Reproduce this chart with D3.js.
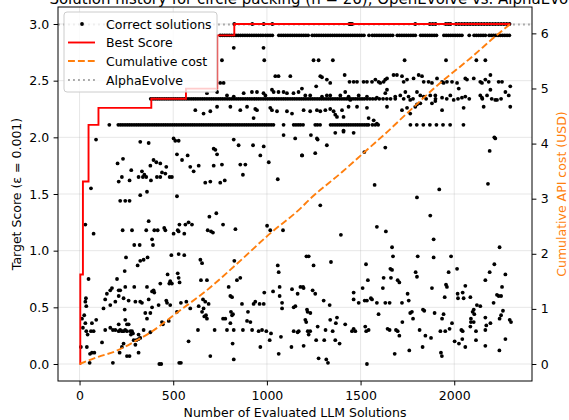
<!DOCTYPE html>
<html>
<head>
<meta charset="utf-8">
<script src="https://cdn.jsdelivr.net/npm/d3@7"></script>
<style>
html,body{margin:0;padding:0;background:#fff;}
svg{display:block;font-family:"DejaVu Sans",sans-serif;}
</style>
</head>
<body>
<svg id="chart" width="569" height="420"></svg>
<script>
// ---------------- DATA ----------------
const xTicks = [0, 500, 1000, 1500, 2000];
const yTicks = [0.0, 0.5, 1.0, 1.5, 2.0, 2.5, 3.0];
const y2Ticks = [0, 1, 2, 3, 4, 5, 6];

// rows of solutions that share the same score
const rowLevels = [3.0, 2.9, 2.34, 2.11];
const row300X = [826, 922, 983, 1029, 1440, 1447, 1455, 1792, 1870, 1885, 1900, 1955, 1968, 1980, 2010, 2025, 2040, 2055, 2070, 2085, 2100, 2115, 2130, 2145, 2160, 2175, 2190, 2205, 2220, 2235, 2250, 2265, 2280, 2295];
const row290X = [751, 763, 775, 787, 799, 811, 823, 835, 847, 859, 871, 883, 895, 907, 919, 931, 943, 955, 967, 979, 993, 1005, 1017, 1029, 1064, 1076, 1088, 1100, 1112, 1124, 1136, 1148, 1160, 1172, 1184, 1196, 1208, 1220, 1242, 1254, 1266, 1278, 1290, 1302, 1314, 1326, 1338, 1350, 1362, 1374, 1386, 1398, 1410, 1422, 1434, 1446, 1458, 1470, 1482, 1494, 1506, 1518, 1545, 1563, 1575, 1587, 1599, 1611, 1623, 1635, 1647, 1659, 1671, 1696, 1708, 1720, 1732, 1744, 1756, 1768, 1780, 1792, 1821, 1833, 1845, 1857, 1869, 1881, 1893, 1905, 1945, 1957, 1969, 1981, 1993, 2005, 2017, 2029, 2041, 2080, 2106, 2118, 2130, 2142, 2154, 2166, 2186, 2198, 2210, 2222, 2234, 2246, 2258, 2270, 2282, 2294];
const row234X = [380, 392, 404, 416, 428, 440, 452, 464, 476, 488, 500, 512, 524, 536, 548, 560, 572, 584, 596, 608, 620, 632, 644, 656, 668, 680, 692, 704, 716, 728, 740, 752, 764, 776, 788, 800, 812, 824, 836, 848, 860, 872, 884, 896, 908, 920, 932, 944, 956, 968, 980, 992, 1004, 1016, 1028, 1040, 1052, 1064, 1076, 1088, 1100, 1112, 1124, 1136, 1148, 1160, 1172, 1184, 1196, 1208, 1220, 1232, 1244, 1256, 1268, 1280, 1292, 1304, 1316, 1328, 1340, 1352, 1364, 1376, 1388, 1400, 1412, 1424, 1436, 1448, 1460, 1472, 1484, 1496, 1508, 1520, 1535, 1550, 1565, 1580, 1600, 1620, 1640, 1660, 1685, 1730, 1780, 1850, 1900, 1960, 2020, 2080, 2150, 2200, 2250];
const row211X = [159, 207, 219, 231, 243, 255, 267, 279, 291, 303, 315, 327, 339, 351, 363, 375, 387, 399, 411, 423, 435, 447, 459, 471, 483, 495, 507, 519, 531, 543, 555, 567, 579, 591, 603, 615, 627, 639, 651, 663, 675, 687, 699, 711, 723, 735, 747, 759, 771, 783, 795, 807, 819, 831, 843, 855, 867, 879, 891, 903, 915, 927, 939, 951, 963, 975, 987, 999, 1011, 1023, 1035, 1089, 1143, 1155, 1167, 1179, 1193, 1258, 1270, 1284, 1340, 1352, 1364, 1376, 1388, 1400, 1412, 1424, 1436, 1448, 1460, 1472, 1484, 1496, 1508, 1520, 1532, 1542, 1563, 1578, 1594, 1766, 1800, 1835, 1870, 1905, 1940, 1978, 2049];

// remaining correct solutions [evaluation index, score]
const otherSolutions = [
[61,1.55],[48,0.75],[34,0.58],[31,0.55],[36,0.51],[25,0.43],[43,0.26],[56,0.09],[88,1.98],
[751,2.48],[769,2.48],[734,2.40],[618,2.24],[662,2.21],[698,2.23],[734,2.27],[805,2.27],[858,2.24],[894,2.27],[947,2.24],[1018,2.26],[1054,2.23],[680,2.39],[787,2.37],[876,2.39],[920,2.40],[992,2.37],[1036,2.40],[823,2.36],[823,2.79],[760,2.68],[986,2.68],[982,2.79],
[324,1.96],[369,1.95],[502,1.99],[511,1.97],[529,1.97],[716,1.90],[823,1.98],[849,1.93],[926,1.93],[983,1.92],
[1249,2.68],[1276,2.68],[1352,2.68],[1735,2.68],[1956,2.68],[2118,2.68],[2166,2.68],
[1045,2.54],[1062,2.54],[1125,2.54],[1285,2.54],[1294,2.53],[1320,2.51],[1338,2.48],[1415,2.55],[1441,2.49],[1463,2.49],[1481,2.49],[1516,2.49],[1534,2.49],[1561,2.49],[1579,2.51],[1596,2.49],[1605,2.48],[1623,2.49],[1632,2.51],[1641,2.52],[1676,2.55],[1694,2.55],[1721,2.54],[1730,2.49],[1748,2.51],[1783,2.52],[1810,2.55],[1828,2.54],[1837,2.49],[1863,2.49],[1881,2.48],[1908,2.52],[1935,2.49],[1943,2.48],[1961,2.49],[1988,2.49],[2015,2.48],[2059,2.52],[2068,2.51],[2104,2.52],[2139,2.49],[2148,2.48],[2166,2.51],[2184,2.49],[2193,2.55],[2237,2.49],[2255,2.49],
[947,2.40],[982,2.39],[1027,2.42],[1062,2.40],[1089,2.40],[1107,2.39],[1142,2.39],[1169,2.40],[1187,2.43],[1205,2.37],[1231,2.37],[1263,2.45],[1294,2.36],[1320,2.37],[1338,2.37],[1392,2.37],[1418,2.40],[1436,2.36],[1445,2.33],[1490,2.37],[1534,2.36],[1587,2.35],[1632,2.39],[1641,2.42],[1685,2.36],[1712,2.37],[1739,2.40],[1756,2.36],[1765,2.33],[1801,2.40],[1819,2.37],[1837,2.36],[1872,2.37],[1899,2.37],[1935,2.35],[1979,2.37],[1997,2.33],[2024,2.43],[2041,2.35],[2059,2.36],[2139,2.37],[2148,2.35],[2175,2.37],[2193,2.42],[2219,2.33],[2273,2.40],[2291,2.37],[2299,2.45],
[938,2.25],[929,2.17],[1027,2.24],[1107,2.23],[1134,2.21],[1196,2.24],[1231,2.23],[1267,2.24],[1285,2.23],[1312,2.24],[1338,2.25],[1356,2.23],[1365,2.20],[1374,2.18],[1401,2.24],[1409,2.18],[1436,2.27],[1481,2.27],[1534,2.26],[1543,2.17],[1570,2.15],[1587,2.12],[1641,2.27],[1721,2.24],[1748,2.26],[1765,2.21],[1792,2.27],[1801,2.29],[1819,2.30],[1881,2.30],[1899,2.32],[1935,2.24],[2050,2.26],[2157,2.27],[2228,2.33],[2299,2.27],
[1089,2.02],[1151,1.99],[1267,1.99],[1365,2.04],[1409,2.05],[1463,2.04],[2219,1.99],
[203,1.77],[232,1.81],[209,1.61],[226,1.65],[276,1.71],[267,1.62],[315,1.65],[333,1.70],[338,1.65],[356,1.65],[346,1.67],[378,1.75],[381,1.62],[395,1.80],[410,1.78],[431,1.77],[440,1.69],[463,1.74],[413,1.65],[431,1.65],[458,1.68],[481,1.65],[493,1.65],[520,1.85],[547,1.80],[577,1.84],[591,1.74],[609,1.70],[636,1.75],[671,1.60],[698,1.61],[716,1.75],[734,1.85],[725,1.89],[751,1.60],[760,1.76],[775,1.62],[858,1.76],[885,1.76],[872,1.67],[965,1.84],[1010,1.78],[1058,1.63],[1188,1.84],
[217,1.44],[244,1.44],[267,1.44],[324,1.49],[360,1.52],[520,1.48],
[230,1.18],[280,1.18],[369,1.26],[356,1.18],[399,1.18],[417,1.18],[387,1.10],[392,1.05],[292,1.05],[321,1.05],[452,1.20],[458,1.18],[502,1.15],[524,1.18],[533,1.23],[529,1.17],[559,1.15],[565,1.23],[582,1.25],[600,1.23],[684,1.18],[693,1.30],[702,1.17],[712,1.16],[730,1.33],[766,1.23],[832,1.19],[1001,1.22],[1018,1.18],[1086,1.18],[75,1.15],[31,1.23],
[248,0.94],[324,0.91],[342,0.92],[363,0.94],[310,0.87],[241,0.82],[200,0.75],[173,0.67],[164,0.65],[146,0.62],[137,0.57],[128,0.49],[164,0.52],[191,0.55],[209,0.65],[217,0.65],[244,0.68],[235,0.58],[209,0.60],[241,0.48],[262,0.56],[292,0.68],[298,0.55],[324,0.55],[333,0.54],[360,0.68],[369,0.57],[387,0.64],[395,0.65],[399,0.63],[431,0.71],[422,0.52],[387,0.50],[378,0.45],[351,0.45],[315,0.26],[342,0.30],
[463,0.56],[470,0.79],[479,0.71],[484,0.73],[493,0.71],[524,0.80],[529,0.76],[534,0.72],[490,0.96],[529,0.97],[559,0.96],[570,0.55],[591,0.49],[645,0.92],[654,0.89],[648,0.74],[680,0.74],[659,0.57],[662,0.49],[671,0.55],[675,0.43],[680,0.40],[689,0.53],[796,0.68],[805,0.60],[814,0.59],[826,0.91],[840,0.74],[858,0.76],[867,0.53],[899,0.46],[929,0.53],[938,0.55],[961,0.53],[983,0.53],[986,0.63],[1033,0.64],[1058,0.87],[1063,0.81],[1068,0.68],[1068,0.60],[1081,0.54],[1081,0.49],[1134,0.66],[1143,0.50],[1152,0.51],[1164,0.62],[1179,0.68],[1193,0.68],[1211,0.95],[1214,0.48],
[13,0.40],[31,0.36],[18,0.32],[36,0.29],[61,0.29],[75,0.29],[66,0.36],[89,0.39],[120,0.19],[137,0.30],[164,0.32],[178,0.30],[191,0.30],[209,0.35],[209,0.29],[217,0.30],[226,0.29],[235,0.29],[244,0.30],[253,0.29],[262,0.35],[271,0.29],[280,0.29],[274,0.26],[285,0.27],[244,0.39],[253,0.35],[289,0.21],[303,0.21],[315,0.22],[324,0.23],[298,0.17],[235,0.18],[226,0.15],[214,0.10],[315,0.10],[253,0.07],[267,0.07],
[360,0.40],[378,0.28],[476,0.38],[520,0.46],[440,0.37],[445,0.35],[484,0.52],[467,0.54],[541,0.54],[582,0.20],[632,0.30],[636,0.51],[654,0.46],[666,0.42],[698,0.07],[721,0.30],[766,0.40],[778,0.40],[787,0.30],[805,0.36],[808,0.46],[814,0.43],[819,0.44],[823,0.30],[823,0.04],[817,0.18],[872,0.30],[894,0.38],[912,0.37],[921,0.30],[956,0.29],[965,0.15],[974,0.30],[997,0.29],[1015,0.21],[1022,0.27],[1063,0.09],[1075,0.24],[1131,0.15],[1143,0.29],[1164,0.28],[1170,0.29],[1205,0.39],[1218,0.29],[1223,0.26],[1232,0.45],
[7,0.15],[39,0.15],[66,0.10],[79,0.10],[54,0.01],[178,0.01],[436,0.00],[541,0.01],[426,0.00],[532,0.01],
[1187,1.84],[1235,2.02],[1258,1.86],[1271,1.98],[1320,1.93],[1409,2.06],[1520,1.87],[1632,1.91],[1285,1.40],[1395,1.14],[1575,1.58],[1587,1.21],[1635,1.17],[1801,1.47],[1872,1.31],[1890,1.10],[1920,1.54],[2180,1.59],[2189,1.88],[2214,2.00],[2242,1.03],
[1223,0.95],[1249,0.87],[1342,0.90],[1668,1.03],[1673,0.95],[1659,0.84],[1668,0.83],[1662,0.76],[1623,0.76],[1619,0.67],[1529,0.88],[1539,0.74],[1511,0.67],[1805,0.95],[1794,0.81],[1801,0.77],[1890,0.94],[1881,0.67],[1949,0.59],[1956,0.70],[1961,0.68],[1970,0.81],[1983,0.95],[2015,0.84],[2166,0.74],[2189,0.81],[2214,0.88],[2273,0.79],[2255,0.68],[2250,0.60],[2237,0.60],[2228,0.61],[2210,0.54],[2121,0.52],
[1196,0.67],[1244,0.65],[1258,0.62],[1303,0.56],[1335,0.52],[1463,0.63],[1463,0.57],[1490,0.54],[1522,0.56],[1534,0.56],[1555,0.58],[1561,0.57],[1587,0.54],[1632,0.54],[1655,0.54],[1698,0.74],[1707,0.72],[1721,0.54],[1751,0.62],[1757,0.56],[1774,0.46],[1765,0.45],[1780,0.40],[1833,0.48],[1840,0.47],[1895,0.45],[1943,0.44],[1935,0.40],[1988,0.36],[2018,0.62],[2020,0.58],[2045,0.63],[2050,0.58],[2059,0.69],[2086,0.59],[2089,0.40],[2098,0.46],[2107,0.44],[2104,0.48],[2089,0.37],[2086,0.33],[2139,0.51],[2104,0.37],[2166,0.41],[2171,0.34],[2193,0.36],[2242,0.40],[2250,0.43],[2260,0.47],[2296,0.39],[2303,0.37],
[1217,0.46],[1210,0.37],[1231,0.29],[1271,0.33],[1313,0.30],[1351,0.29],[1368,0.36],[1338,0.39],[1374,0.41],[1418,0.35],[1454,0.29],[1463,0.31],[1472,0.29],[1525,0.33],[1530,0.29],[1543,0.30],[1596,0.44],[1644,0.31],[1655,0.30],[1689,0.30],[1698,0.29],[1707,0.25],[1723,0.37],[1815,0.30],[1846,0.25],[1876,0.23],[1926,0.29],[1952,0.29],[1975,0.31],[2038,0.30],[2045,0.29],[2002,0.20],[2025,0.18],[2043,0.22],[2059,0.15],[2116,0.29],[2116,0.21],[2166,0.30],[2166,0.16],[2273,0.22],[2241,0.12],
[1196,0.16],[1263,0.21],[1306,0.21],[1365,0.21],[1388,0.18],[1276,0.05],[1317,0.04],[1326,0.01],[1534,0.00],[1682,0.09],[1760,0.12],[1831,0.15],[1929,0.10],[1934,0.07]
];

// best score so far (step function)
const bestX = [0, 4, 18, 48, 101, 383, 568, 735, 826, 2300];
const bestY = [0, 0.79, 1.61, 2.11, 2.26, 2.34, 2.43, 2.90, 3.0, 3.0];

// cumulative API cost (USD)
const costX = [0, 100, 191, 300, 377, 527, 680, 831, 1018, 1178, 1232, 1400, 1516, 1579, 1632, 1748, 1908, 2086, 2228, 2300];
const costY = [0, 0.13, 0.23, 0.42, 0.57, 0.95, 1.34, 1.79, 2.37, 2.82, 3.0, 3.48, 3.83, 4.02, 4.18, 4.55, 5.05, 5.55, 5.97, 6.17];

const alphaEvolveScore = 2.995;

const titleText = "Solution history for circle packing (n = 26), OpenEvolve vs. AlphaEvolve";
const xLabel = "Number of Evaluated LLM Solutions";
const yLabel = "Target Score (\u03b5 = 0.001)";
const y2Label = "Cumulative API cost (USD)";
const legendLabels = ["Correct solutions", "Best Score", "Cumulative cost", "AlphaEvolve"];

// ---------------- DRAW ----------------
const svg = d3.select("#chart");
const L = 58, R = 532, T = 7, B = 381;
const FONT = 12.5;
const RED = "#ff0000", ORANGE = "#ff7f0e", GREY = "#aaaaaa";

const solutions = [];
[row300X, row290X, row234X, row211X].forEach((row, i) => row.forEach(v => solutions.push([v, rowLevels[i]])));
otherSolutions.forEach(p => solutions.push(p));

function padded(lo, hi) { const p = (hi - lo) * 0.05; return [lo - p, hi + p]; }
const xAll = solutions.map(d => d[0]).concat(bestX, costX);
const x = d3.scaleLinear().domain(padded(0, d3.max(bestX.concat(costX)))).range([L, R]);
const y = d3.scaleLinear().domain(padded(0, d3.max(bestY))).range([B, T]);
const y2 = d3.scaleLinear().domain(padded(0, d3.max(costY))).range([B, T]);

// grid
const grid = svg.append("g").attr("stroke", "#b0b0b0").attr("stroke-opacity", 0.3).attr("stroke-width", 1);
xTicks.forEach(t => grid.append("line").attr("x1", x(t)).attr("x2", x(t)).attr("y1", T).attr("y2", B));
yTicks.forEach(t => grid.append("line").attr("x1", L).attr("x2", R).attr("y1", y(t)).attr("y2", y(t)));

const clip = svg.append("defs").append("clipPath").attr("id", "plot")
  .append("rect").attr("x", L).attr("y", T).attr("width", R - L).attr("height", B - T);
const plot = svg.append("g").attr("clip-path", "url(#plot)");

// AlphaEvolve reference
plot.append("line").attr("x1", L).attr("x2", R)
  .attr("y1", y(alphaEvolveScore)).attr("y2", y(alphaEvolveScore))
  .attr("stroke", GREY).attr("stroke-width", 1.9).attr("stroke-dasharray", "1.9,3.1");

// solutions
plot.append("g").selectAll("circle").data(solutions).join("circle")
  .attr("cx", d => x(d[0])).attr("cy", d => y(d[1])).attr("r", 1.9).attr("fill", "#000");

// best score
const bestPts = bestX.map((v, i) => [v, bestY[i]]);
plot.append("path").datum(bestPts)
  .attr("d", d3.line().x(d => x(d[0])).y(d => y(d[1])).curve(d3.curveStepAfter))
  .attr("fill", "none").attr("stroke", RED).attr("stroke-width", 1.9);

// cumulative cost
const costPts = costX.map((v, i) => [v, costY[i]]);
plot.append("path").datum(costPts)
  .attr("d", d3.line().x(d => x(d[0])).y(d => y2(d[1])).curve(d3.curveMonotoneX))
  .attr("fill", "none").attr("stroke", ORANGE).attr("stroke-width", 1.9).attr("stroke-dasharray", "6.9,3");

// axes
function styleAxis(g) {
  g.select(".domain").remove();
  g.selectAll(".tick line").attr("stroke", "#000").attr("stroke-width", 1);
  g.selectAll(".tick text").attr("fill", "#000").style("font-size", FONT + "px").style("font-family", "DejaVu Sans");
}
svg.append("g").attr("transform", `translate(0,${B})`)
  .call(d3.axisBottom(x).tickValues(xTicks).tickFormat(d3.format("d")).tickSize(4.4).tickPadding(4.4))
  .call(styleAxis).call(g => g.selectAll(".tick text").attr("dy", null).attr("y", 19));
svg.append("g").attr("transform", `translate(${L},0)`)
  .call(d3.axisLeft(y).tickValues(yTicks).tickFormat(d3.format(".1f")).tickSize(4.4).tickPadding(4.4))
  .call(styleAxis);
svg.append("g").attr("transform", `translate(${R},0)`)
  .call(d3.axisRight(y2).tickValues(y2Ticks).tickFormat(d3.format("d")).tickSize(4.4).tickPadding(4.4))
  .call(styleAxis);

// spines
svg.append("rect").attr("x", L).attr("y", T).attr("width", R - L).attr("height", B - T)
  .attr("fill", "none").attr("stroke", "#000").attr("stroke-width", 1);

// labels
svg.append("text").attr("x", (L + R) / 2).attr("y", 417).attr("text-anchor", "middle")
  .style("font-size", FONT + "px").text(xLabel);
svg.append("text").attr("transform", `translate(21,${(T + B) / 2}) rotate(-90)`).attr("text-anchor", "middle")
  .style("font-size", FONT + "px").text(yLabel);
svg.append("text").attr("transform", `translate(565.5,${(T + B) / 2}) rotate(-90)`).attr("text-anchor", "middle")
  .attr("fill", ORANGE).style("font-size", FONT + "px").text(y2Label);
svg.append("text").attr("x", 320).attr("y", 4).attr("text-anchor", "middle")
  .style("font-size", "15px").attr("fill", "#000").text(titleText);

// legend
const lg = svg.append("g");
lg.append("rect").attr("x", 64).attr("y", 12).attr("width", 153).attr("height", 80).attr("rx", 3)
  .attr("fill", "#fff").attr("fill-opacity", 0.8).attr("stroke", "#cccccc").attr("stroke-width", 1);
const rows = [24, 42.5, 61, 80];
lg.append("circle").attr("cx", 82).attr("cy", rows[0]).attr("r", 1.9).attr("fill", "#000");
lg.append("line").attr("x1", 68).attr("x2", 95).attr("y1", rows[1]).attr("y2", rows[1]).attr("stroke", RED).attr("stroke-width", 1.9);
lg.append("line").attr("x1", 68).attr("x2", 95).attr("y1", rows[2]).attr("y2", rows[2]).attr("stroke", ORANGE).attr("stroke-width", 1.9).attr("stroke-dasharray", "6.9,3");
lg.append("line").attr("x1", 68).attr("x2", 95).attr("y1", rows[3]).attr("y2", rows[3]).attr("stroke", GREY).attr("stroke-width", 1.9).attr("stroke-dasharray", "1.9,3.1");
legendLabels.forEach((t, i) => lg.append("text").attr("x", 106).attr("y", rows[i]).attr("dy", "0.36em")
  .style("font-size", FONT + "px").text(t));
</script>
</body>
</html>
